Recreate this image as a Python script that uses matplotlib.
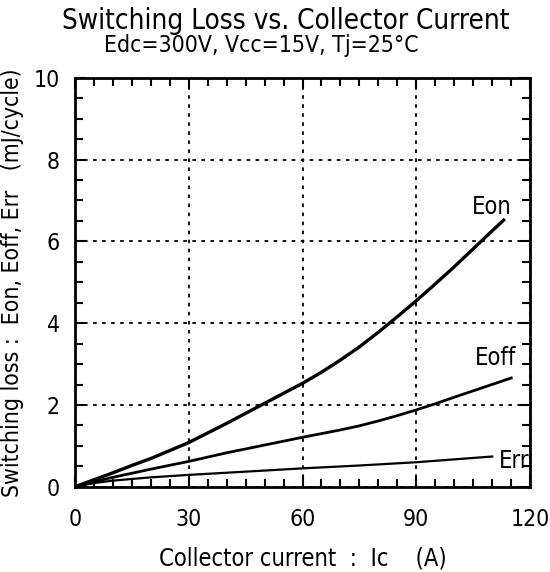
import numpy as np
import matplotlib.pyplot as plt

plt.rcParams['font.family'] = ['DejaVu Sans']
plt.rcParams['font.stretch'] = 'condensed'

# curves (Ic in A, loss in mJ/cycle)
ic_on = [0, 5, 10, 15, 20, 30, 40, 50, 60, 65, 70, 75, 80, 85, 90, 95, 100, 105, 110, 113]
eon = [0, 0.17, 0.34, 0.52, 0.69, 1.08, 1.55, 2.04, 2.53, 2.80, 3.10, 3.42, 3.78, 4.16, 4.55, 4.96, 5.38, 5.82, 6.26, 6.52]
ic_off = [0, 5, 10, 15, 20, 30, 40, 50, 60, 65, 70, 75, 80, 85, 90, 95, 100, 108, 115]
eoff = [0, 0.12, 0.23, 0.33, 0.43, 0.62, 0.83, 1.02, 1.21, 1.30, 1.39, 1.49, 1.61, 1.74, 1.88, 2.03, 2.19, 2.44, 2.66]
ic_rr = [0, 5, 10, 15, 20, 30, 45, 60, 75, 90, 100, 110]
err = [0, 0.09, 0.15, 0.19, 0.23, 0.29, 0.37, 0.45, 0.52, 0.60, 0.67, 0.74]

xticks = [0, 30, 60, 90, 120]
yticks = [0, 2, 4, 6, 8, 10]

fig = plt.figure(figsize=(5.5, 5.72), dpi=100)
ax = fig.add_axes([0.136, 0.149, 0.828, 0.715])

ax.plot(ic_on, eon, color='black', lw=2.4)
ax.plot(ic_off, eoff, color='black', lw=2.0)
ax.plot(ic_rr, err, color='black', lw=1.6)

ax.text(110, 6.85, 'Eon', fontsize=17, ha='center', va='center')
ax.text(111, 3.14, 'Eoff', fontsize=17, ha='center', va='center')
ax.text(115.7, 0.62, 'Err', fontsize=17, ha='center', va='center')

ax.set_xlim(0, 120)
ax.set_ylim(0, 10)
ax.set_xticks(xticks)
ax.set_yticks(yticks)
ax.set_xticks(np.arange(0, 121, 5), minor=True)
ax.set_yticks(np.arange(0, 10.01, 0.5), minor=True)
ax.tick_params(which='both', direction='in', top=True, right=True, width=1.5)
ax.tick_params(which='major', length=8, labelsize=16.5)
ax.tick_params(axis='x', which='major', pad=15)
ax.tick_params(axis='y', which='major', pad=11)
ax.tick_params(which='minor', length=6)
ax.grid(True, which='major', color='black', linestyle=(0, (2, 3)), lw=1.3)
for s in ax.spines.values():
    s.set_linewidth(2)

ax.set_xlabel('Collector current  :  Ic    (A)', fontsize=17)
ax.xaxis.set_label_coords(0.5, -0.145)
ax.set_ylabel('Switching loss :  Eon, Eoff, Err   (mJ/cycle)', fontsize=16.5)
ax.yaxis.set_label_coords(-0.112, 0.5)
fig.text(0.52, 0.963, 'Switching Loss vs. Collector Current', fontsize=20,
         ha='center', va='center')
fig.text(0.476, 0.920, 'Edc=300V, Vcc=15V, Tj=25°C', fontsize=16.5,
         ha='center', va='center')

fig.savefig('out.png')
